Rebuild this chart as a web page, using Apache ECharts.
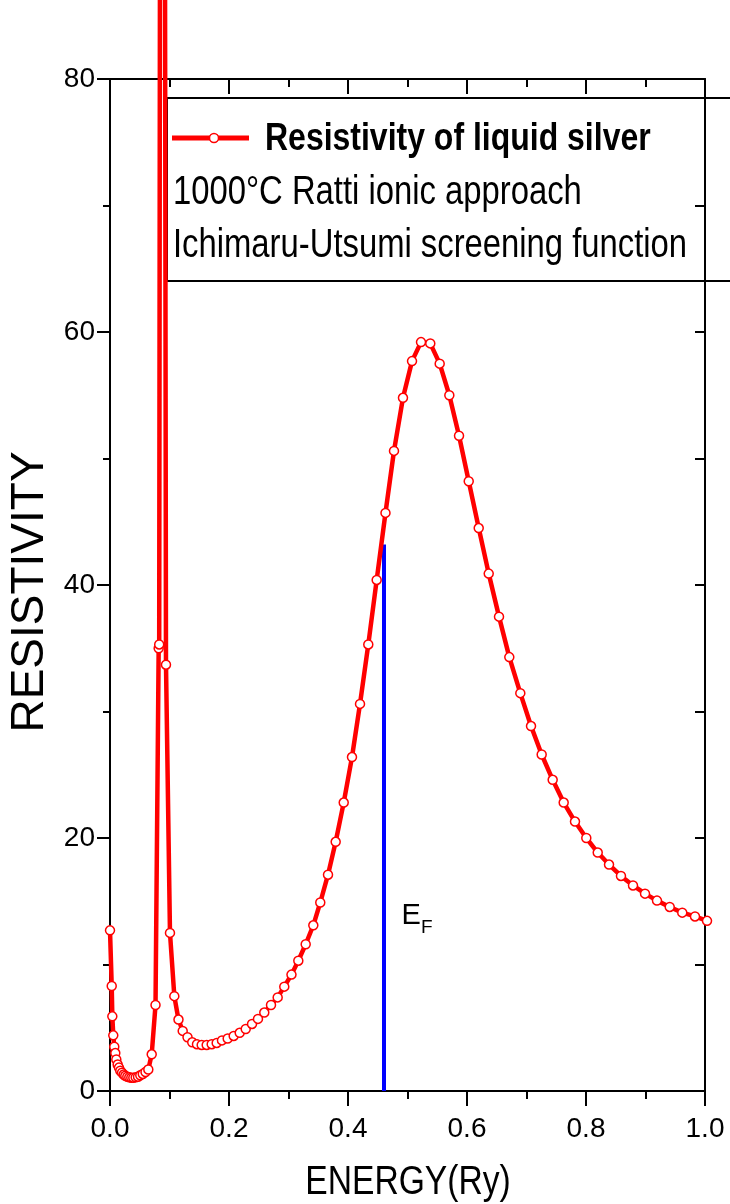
<!DOCTYPE html>
<html>
<head>
<meta charset="utf-8">
<script src="https://cdn.jsdelivr.net/npm/echarts@6/dist/echarts.min.js"></script>
<style>
  html, body { margin: 0; padding: 0; background: #fff; overflow: hidden; }
  #chart { width: 730px; height: 1204px; }
</style>
</head>
<body>
<div id="chart"></div>
<script>
// Energy grid (Ry) and computed resistivity of liquid silver
const energy = [
  0.0000, 0.0029, 0.0039, 0.0055, 0.0072, 0.0089, 0.0106, 0.0129, 0.0151, 0.0173,
  0.0202, 0.0230, 0.0257, 0.0291, 0.0324, 0.0358, 0.0392, 0.0432, 0.0471, 0.0509,
  0.0551, 0.0597, 0.0644, 0.0701, 0.0765, 0.0818, 0.0827, 0.0877, 0.0941, 0.1008,
  0.1081, 0.1151, 0.1222, 0.1303, 0.1382, 0.1462, 0.1541, 0.1625, 0.1709, 0.1793,
  0.1882, 0.1978, 0.2079, 0.2180, 0.2281, 0.2387, 0.2487, 0.2593, 0.2706, 0.2818,
  0.2929, 0.3050, 0.3165, 0.3289, 0.3417, 0.3534, 0.3664, 0.3793, 0.3928, 0.4067,
  0.4202, 0.4341, 0.4482, 0.4630, 0.4773, 0.4924, 0.5076, 0.5227, 0.5383, 0.5541,
  0.5703, 0.5866, 0.6029, 0.6197, 0.6365, 0.6538, 0.6711, 0.6896, 0.7076, 0.7255,
  0.7440, 0.7625, 0.7815, 0.8005, 0.8197, 0.8387, 0.8588, 0.8790, 0.8992, 0.9193,
  0.9407, 0.9618, 0.9832, 1.0034
];
const resistivity = [
  12.7, 8.3, 5.9, 4.4, 3.5, 3.0, 2.5, 2.1, 1.85, 1.6,
  1.45, 1.3, 1.2, 1.13, 1.08, 1.05, 1.05, 1.08, 1.13, 1.24,
  1.35, 1.5, 1.7, 2.9, 6.8, 35.0, 35.3, 250.0, 33.7, 12.5,
  7.5, 5.65, 4.75, 4.25, 3.85, 3.7, 3.64, 3.64, 3.7, 3.8,
  4.0, 4.15, 4.35, 4.6, 4.9, 5.3, 5.7, 6.2, 6.8, 7.4,
  8.25, 9.2, 10.3, 11.6, 13.1, 14.9, 17.1, 19.7, 22.8, 26.4,
  30.6, 35.3, 40.4, 45.7, 50.6, 54.8, 57.7, 59.2, 59.1, 57.5,
  55.0, 51.8, 48.2, 44.5, 40.9, 37.5, 34.3, 31.45, 28.85, 26.6,
  24.6, 22.8, 21.3, 20.0, 18.85, 17.9, 17.0, 16.25, 15.6, 15.05,
  14.55, 14.1, 13.8, 13.45
];

// Fermi energy marker
const fermiEnergy = 0.4605;
const fermiLineTop = 43.2;
const fermiLabelAt = [0.516, 13.6];

// Axis ticks
const xTicks = [0.0, 0.2, 0.4, 0.6, 0.8, 1.0];
const yTicks = [0, 20, 40, 60, 80];

// Titles and legend text
const xTitle = 'ENERGY(Ry)';
const yTitle = 'RESISTIVITY';
const seriesName = 'Resistivity of liquid silver';
const noteLines = ['1000\u00B0C Ratti ionic approach', 'Ichimaru-Utsumi screening function'];

// Narrow face if installed, otherwise squeeze the regular face horizontally
function fontInstalled(name) {
  const ctx = document.createElement('canvas').getContext('2d');
  const probe = 'ENERGY(Ry) 0123456789 abcdefghij';
  return ['monospace', 'serif'].some(fb => {
    ctx.font = '40px ' + fb;
    const a = ctx.measureText(probe).width;
    ctx.font = '40px "' + name + '", ' + fb;
    return Math.abs(ctx.measureText(probe).width - a) > 0.5;
  });
}
const HAS_NARROW = fontInstalled('Liberation Sans Narrow');
const REGULAR = '"Liberation Sans", Arial, sans-serif';
const NARROW = HAS_NARROW ? '"Liberation Sans Narrow", "Liberation Sans", sans-serif' : REGULAR;
const SQUEEZE = HAS_NARROW ? 1 : 0.82;
const TICK_SIZE = HAS_NARROW ? 32 : 28;

const curve = energy.map((e, i) => [e, resistivity[i]]);
const fermiLine = [[fermiEnergy, 0], [fermiEnergy, fermiLineTop]];

const axisBase = {
  type: 'value',
  axisLine: { show: true, onZero: false, lineStyle: { color: '#000', width: 2 } },
  splitLine: { show: false },
  minorSplitLine: { show: false }
};

const chart = echarts.init(document.getElementById('chart'), null,
  { renderer: 'canvas', width: 730, height: 1204 });

function narrowText(x, y, text, size, weight, align) {
  return {
    type: 'text', x: x, y: y, scaleX: SQUEEZE, scaleY: 1,
    style: {
      text: text, fill: '#000',
      font: (weight || 'normal') + ' ' + size + 'px ' + NARROW,
      textAlign: align || 'left', textVerticalAlign: 'middle'
    }
  };
}

chart.setOption({
  animation: false,
  backgroundColor: '#fff',
  grid: { left: 110, top: 79, right: 25, bottom: 113, containLabel: false },
  xAxis: [
    Object.assign({}, axisBase, {
      position: 'bottom',
      min: xTicks[0], max: xTicks[xTicks.length - 1], interval: 0.2,
      axisTick: { show: true, inside: false, length: 15, lineStyle: { color: '#000', width: 2 } },
      minorTick: { show: true, splitNumber: 2, length: 8, lineStyle: { color: '#000', width: 2 } },
      axisLabel: { color: '#000', fontFamily: NARROW, fontSize: TICK_SIZE, margin: 24,
        formatter: v => v.toFixed(1) }
    }),
    Object.assign({}, axisBase, {
      position: 'top',
      min: xTicks[0], max: xTicks[xTicks.length - 1], interval: 0.2,
      axisTick: { show: true, inside: true, length: 15, lineStyle: { color: '#000', width: 2 } },
      minorTick: { show: true, splitNumber: 2, length: 8, lineStyle: { color: '#000', width: 2 } },
      axisLabel: { show: false }
    })
  ],
  yAxis: [
    Object.assign({}, axisBase, {
      position: 'left',
      min: yTicks[0], max: yTicks[yTicks.length - 1], interval: 20,
      axisTick: { show: true, inside: false, length: 13, lineStyle: { color: '#000', width: 2 } },
      minorTick: { show: true, splitNumber: 2, length: 7, lineStyle: { color: '#000', width: 2 } },
      axisLabel: { color: '#000', fontFamily: NARROW, fontSize: TICK_SIZE, margin: 15 }
    }),
    Object.assign({}, axisBase, {
      position: 'right',
      min: yTicks[0], max: yTicks[yTicks.length - 1], interval: 20,
      axisTick: { show: true, inside: true, length: 10, lineStyle: { color: '#000', width: 2 } },
      minorTick: { show: true, splitNumber: 2, length: 10, lineStyle: { color: '#000', width: 2 } },
      axisLabel: { show: false }
    })
  ],
  series: [
    {
      name: seriesName,
      type: 'line',
      data: curve,
      clip: false,
      showAllSymbol: true,
      symbol: 'circle',
      symbolSize: 9,
      lineStyle: { color: '#ff0000', width: 4.5 },
      itemStyle: { color: '#fff', borderColor: '#ff0000', borderWidth: 1.5 },
      z: 3
    },
    {
      name: 'Fermi energy',
      type: 'line',
      data: fermiLine,
      symbol: 'none',
      lineStyle: { color: '#0000ff', width: 4 },
      z: 2,
      markPoint: {
        symbol: 'circle', symbolSize: 1,
        itemStyle: { color: 'rgba(0,0,0,0)' },
        data: [{ coord: fermiLabelAt }],
        label: {
          show: true, position: 'inside', color: '#000',
          formatter: '{e|E}{f|F}',
          rich: {
            e: { fontFamily: NARROW, fontSize: 29, color: '#000', verticalAlign: 'top', lineHeight: 34 },
            f: { fontFamily: NARROW, fontSize: 19, color: '#000', verticalAlign: 'top', lineHeight: 34, padding: [16, 0, 0, 0] }
          }
        }
      }
    }
  ],
  graphic: [
    narrowText(408, 1183, xTitle, 41, 'normal', 'center'),
    {
      type: 'text', x: 30, y: 592, rotation: Math.PI / 2,
      style: { text: yTitle, fill: '#000', font: '46px ' + REGULAR,
        textAlign: 'center', textVerticalAlign: 'middle' }
    },
    {
      type: 'group', z: 10,
      children: [
        { type: 'rect', shape: { x: 167, y: 98, width: 620, height: 183 },
          style: { fill: '#fff', stroke: '#000', lineWidth: 2 } },
        { type: 'line', shape: { x1: 172, y1: 138, x2: 249, y2: 138 },
          style: { stroke: '#ff0000', lineWidth: 5 } },
        { type: 'circle', shape: { cx: 214, cy: 138, r: 4.5 },
          style: { fill: '#fff', stroke: '#ff0000', lineWidth: 1.5 } },
        narrowText(265, 139, seriesName, 39, 'bold'),
        narrowText(173, 193, noteLines[0], 40),
        narrowText(173, 246, noteLines[1], 40)
      ]
    }
  ]
});
</script>
</body>
</html>
